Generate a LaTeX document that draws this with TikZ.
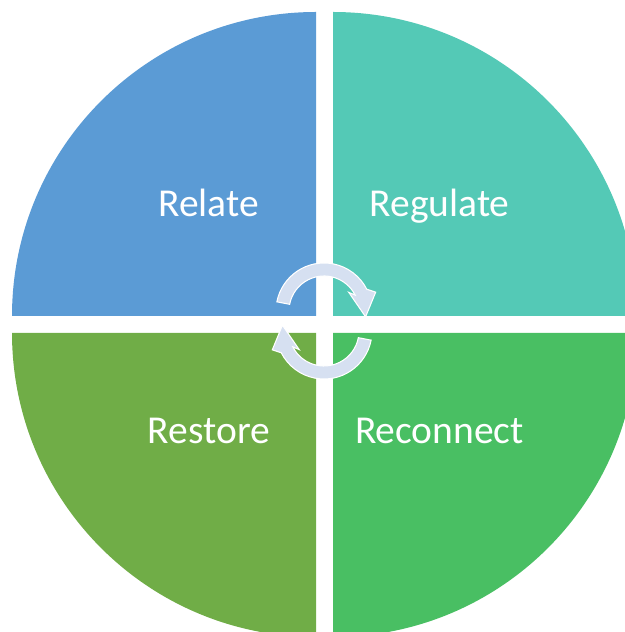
\documentclass[tikz,border=0pt]{standalone}
\usepackage{fontspec}
\setmainfont{Carlito}
\definecolor{relateblue}{HTML}{5B9BD5}
\definecolor{regulateteal}{HTML}{54C9B6}
\definecolor{restoregreen}{HTML}{70AD47}
\definecolor{reconnectgreen}{HTML}{49BF63}
\definecolor{arrowfill}{HTML}{D6E0F1}
\tikzset{
	quadlabel/.style={text=white, anchor=base, font=\fontsize{22.5}{27}\selectfont},
	cyclearrow/.style={fill=arrowfill, draw=white, line width=0.6pt},
}

\begin{document}
\begin{tikzpicture}[x=0.02cm, y=0.02cm]
		\useasboundingbox (0,0) rectangle (625,632);
		% four quarter discs
		\fill[relateblue] (316,316) -- ++(-304,0) arc[start angle=180, end angle=90, radius=304] -- cycle;
		\fill[regulateteal] (333,316) -- ++(0,304) arc[start angle=90, end angle=0, radius=304] -- cycle;
		\fill[restoregreen] (316,299) -- ++(-304,0) arc[start angle=180, end angle=270, radius=304] -- cycle;
		\fill[reconnectgreen] (333,299) -- ++(304,0) arc[start angle=0, end angle=-90, radius=304] -- cycle;
		\node[quadlabel] (relate) at (208.5,415) {Relate};
		\node[quadlabel] (regulate) at (439.5,415) {Regulate};
		\node[quadlabel] (restore) at (209,188) {Restore};
		\node[quadlabel] (reconnect) at (439.5,188) {Reconnect};
		% circular arrows
		\foreach \turn in {0,180} {
			\begin{scope}[rotate around={\turn:(324,311)}, shift={(324,321)}]
				\draw[cyclearrow] (169:48) arc[start angle=169, end angle=27, radius=48]
					-- (20:55) -- (-8:42) -- (37:31) -- (27:35)
					arc[start angle=27, end angle=169, radius=35] -- cycle;
			\end{scope}
		}
	\end{tikzpicture}
\end{document}
